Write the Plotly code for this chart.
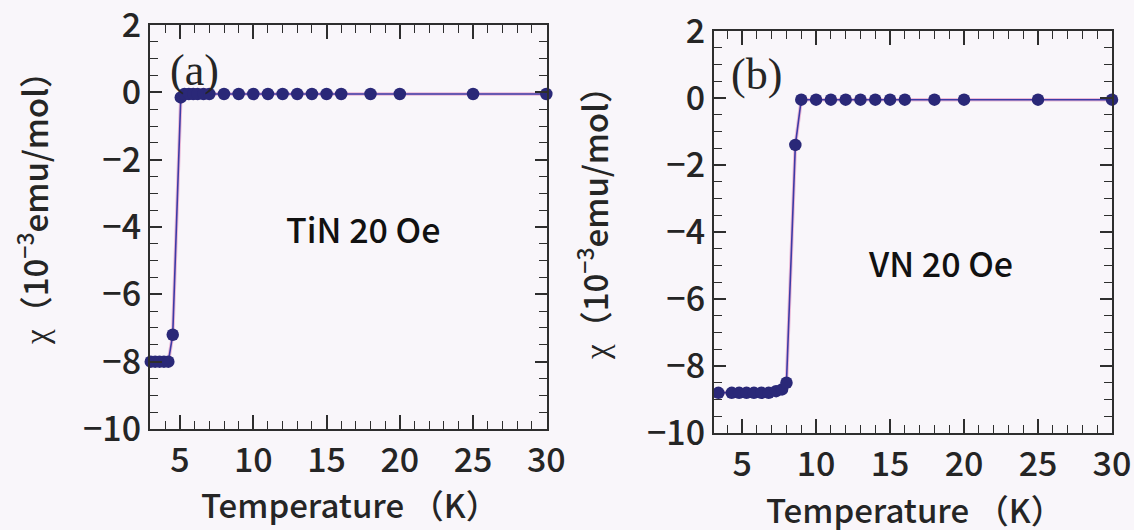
import plotly.graph_objects as go

# TiN, 20 Oe: temperature (K) and susceptibility (10^-3 emu/mol)
tin_T = [3.0, 3.3, 3.6, 3.9, 4.2, 4.5, 5.05, 5.3, 5.6, 5.9, 6.2, 6.6, 7.0,
         8, 9, 10, 11, 12, 13, 14, 15, 16, 18, 20, 25, 30]
tin_chi = [-8.0, -8.0, -8.0, -8.0, -8.0, -7.2, -0.15, -0.05, -0.05, -0.05, -0.05, -0.05, -0.05,
           -0.05, -0.05, -0.05, -0.05, -0.05, -0.05, -0.05, -0.05, -0.05, -0.05, -0.05, -0.05, -0.05]

# VN, 20 Oe
vn_T = [3.0, 3.4, 4.3, 4.8, 5.3, 5.8, 6.3, 6.8, 7.3, 7.7, 8.0, 8.6,
        9, 10, 11, 12, 13, 14, 15, 16, 18, 20, 25, 30]
vn_chi = [-8.8, -8.8, -8.8, -8.8, -8.8, -8.8, -8.8, -8.8, -8.75, -8.7, -8.5, -1.4,
          -0.05, -0.05, -0.05, -0.05, -0.05, -0.05, -0.05, -0.05, -0.05, -0.05, -0.05, -0.05]

x_ticks = [5, 10, 15, 20, 25, 30]
y_ticks = [2, 0, -2, -4, -6, -8, -10]

BG = "#f9f6fa"
AX = "#2e2e2e"
LINE = "#3d3aa6"
HALO = "rgba(220,110,170,0.45)"
MARK = "#2a2878"
FONT = "Noto Sans CJK JP"
TXT = "#252525"
FS = 33

fig = go.Figure()

for T, chi, xa, ya in [(tin_T, tin_chi, "x", "y"), (vn_T, vn_chi, "x2", "y2")]:
    # soft magenta fringe under the connecting line
    fig.add_trace(go.Scatter(x=T, y=chi, xaxis=xa, yaxis=ya, mode="lines",
                             line=dict(color=HALO, width=3.5),
                             hoverinfo="skip", cliponaxis=False))
    fig.add_trace(go.Scatter(x=T, y=chi, xaxis=xa, yaxis=ya, mode="lines+markers",
                             line=dict(color=LINE, width=1.6),
                             marker=dict(color=MARK, size=12.5, line=dict(width=0)),
                             cliponaxis=False))

tick_font = dict(family=FONT, size=34, color=TXT, weight=500)

common_x = dict(
    tickmode="array", tickvals=x_ticks, ticktext=[str(v) for v in x_ticks],
    ticks="inside", ticklen=14, tickwidth=1.6, tickcolor=AX,
    minor=dict(dtick=1, tick0=0, ticks="inside", ticklen=8, tickwidth=1.4, tickcolor=AX),
    showline=True, linecolor=AX, linewidth=2.2, mirror="allticks",
    showgrid=False, zeroline=False, automargin=False,
    ticklabeloverflow="allow",
    tickfont=tick_font,
)
common_y = dict(
    tickmode="array", tickvals=y_ticks,
    ticktext=[str(v) if v >= 0 else "\u2212" + str(-v) for v in y_ticks],
    range=[-10, 2],
    ticks="inside", ticklen=12, tickwidth=1.6, tickcolor=AX,
    minor=dict(dtick=0.5, tick0=0, ticks="inside", ticklen=8, tickwidth=1.4, tickcolor=AX),
    showline=True, linecolor=AX, linewidth=2.2, mirror="allticks",
    showgrid=False, zeroline=False, automargin=False,
    ticklabeloverflow="allow",
    tickfont=tick_font,
)

fig.update_layout(
    width=1134, height=530,
    margin=dict(l=0, r=0, t=0, b=0, autoexpand=False),
    paper_bgcolor=BG, plot_bgcolor=BG,
    showlegend=False,
    xaxis=dict(common_x, domain=[0.1323, 0.4824], range=[2.95, 30.05], anchor="y"),
    yaxis=dict(common_y, domain=[0.1906, 0.9528], anchor="x"),
    xaxis2=dict(common_x, domain=[0.6296, 0.9806], range=[3.1, 30.0], anchor="y2"),
    yaxis2=dict(common_y, domain=[0.183, 0.9415], anchor="x2"),
)

ann = []
# axis titles
for xc, yc in [(350, 504), (915, 509)]:
    ann.append(dict(text="Temperature\u2009\uff08K\uff09", xref="paper", yref="paper",
                    x=xc / 1134, y=1 - yc / 530, xanchor="center", yanchor="middle",
                    showarrow=False,
                    font=dict(family=FONT, size=FS, color=TXT, weight=500)))
for xc, yc in [(32, 200), (592, 215)]:
    ann.append(dict(text="<span style='font-family:Liberation Serif'>\u03c7</span>"
                         "\uff0810<sup>\u22123</sup>emu/mol\uff09",
                    xref="paper", yref="paper",
                    x=xc / 1134, y=1 - yc / 530, xanchor="center", yanchor="middle",
                    showarrow=False, textangle=-90,
                    font=dict(family=FONT, size=FS, color=TXT, weight=500)))
# panel labels
ann.append(dict(text="(a)", xref="x", yref="y", x=6.0, y=0.65,
                xanchor="center", yanchor="middle", showarrow=False,
                font=dict(family="Liberation Serif", size=44, color=TXT)))
ann.append(dict(text="(b)", xref="x2", yref="y2", x=5.95, y=0.7,
                xanchor="center", yanchor="middle", showarrow=False,
                font=dict(family="Liberation Serif", size=44, color=TXT)))
# sample labels
ann.append(dict(text="TiN 20 Oe", xref="x", yref="y", x=17.5, y=-4.05,
                xanchor="center", yanchor="middle", showarrow=False,
                font=dict(family=FONT, size=34, color="#111", weight=500)))
ann.append(dict(text="VN 20 Oe", xref="x2", yref="y2", x=18.4, y=-4.9,
                xanchor="center", yanchor="middle", showarrow=False,
                font=dict(family=FONT, size=34, color="#111", weight=500)))
fig.update_layout(annotations=ann)

fig.write_html("out.html")
